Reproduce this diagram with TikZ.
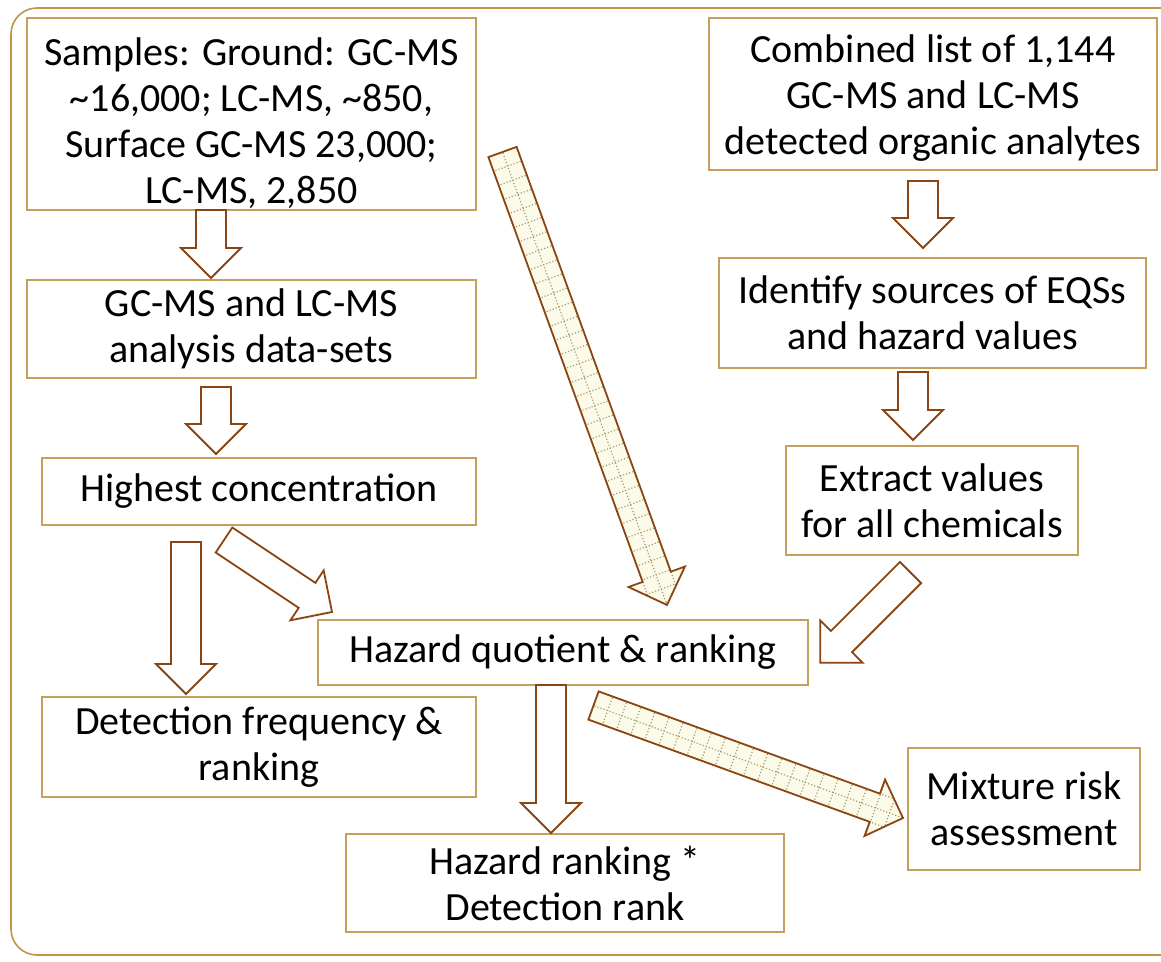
\documentclass[tikz,border=0pt]{standalone}
\usepackage{fontspec}
\setmainfont{Carlito}
\usetikzlibrary{calc}
\definecolor{boxcol}{RGB}{196,160,92}
\definecolor{framecol}{RGB}{190,150,70}
\definecolor{arrcol}{RGB}{139,69,19}
\definecolor{creamcol}{RGB}{252,250,232}
\definecolor{gridcol}{RGB}{165,160,115}
\tikzset{
  box/.style={draw=boxcol, line width=1.8pt, inner sep=0pt, align=center,
    font=\fontsize{40}{46}\selectfont, text=black},
  txt/.style={inner sep=0pt, align=center, font=\fontsize{40}{46}\selectfont, text=black},
  blk/.style={draw=arrcol, line width=1.8pt, line join=miter, fill=white},
  pat/.style={fill=creamcol},
}
\newcommand\arrshape{(0,-15) -- (\arlen-30,-15) -- (\arlen-30,-30) -- (\arlen,0) -- (\arlen-30,30) -- (\arlen-30,15) -- (0,15) -- cycle}
\newcommand\getarrow[2]{%
  \path let \p1=($(#2)-(#1)$) in \pgfextra{%
    \pgfmathsetmacro\tmpl{veclen(\x1,\y1)}\xdef\arlen{\tmpl}%
    \pgfmathsetmacro\tmpa{atan2(\y1,\x1)}\xdef\arang{\tmpa}};}
\newcommand\blockarrow[2]{%
  \getarrow{#1}{#2}%
  \begin{scope}[shift={(#1)}, rotate=\arang]
    \draw[blk] \arrshape;
  \end{scope}}
\newcommand\patarrow[2]{%
  \getarrow{#1}{#2}%
  \begin{scope}[shift={(#1)}, rotate=\arang]
    \fill[pat] \arrshape;
    \begin{scope}
      \clip \arrshape;
      \draw[gridcol, line width=1.2pt, dash pattern=on 1.2pt off 2pt, step=15pt] (-15,-45) grid (\arlen+15,45);
    \end{scope}
    \draw[blk, fill=none] \arrshape;
  \end{scope}}
\begin{document}
\begin{tikzpicture}[x=1pt,y=-1pt]
\useasboundingbox (0,0) rectangle (1161,961);
\clip (0,0) rectangle (1161,961);
\draw[framecol, line width=1.6pt, rounded corners=26pt] (11,8) rectangle (1190,955);

\node[box, minimum width=449pt, minimum height=192pt] (samples) at (251.5,114) {};
\node[txt] (samplestext) at (251.5,123)
  {Samples: Ground: GC-MS\\ \textasciitilde16,000; LC-MS, \textasciitilde850,\\ Surface GC-MS 23,000;\\ LC-MS, 2,850};
\node[box, minimum width=448pt, minimum height=152pt] (combined) at (933,94) {};
\node[txt] (combinedtext) at (933,98)
  {Combined list of 1,144\\ GC-MS and LC-MS\\ detected organic analytes};
\node[box, minimum width=449pt, minimum height=98pt] (analysis) at (251.5,329)
  {GC-MS and LC-MS\\ analysis data-sets};
\node[box, minimum width=427pt, minimum height=110pt] (identify) at (932.5,313)
  {Identify sources of EQSs\\ and hazard values};
\node[box, minimum width=434pt, minimum height=67pt] (highest) at (259,491.5)
  {Highest concentration};
\node[box, minimum width=292pt, minimum height=109pt] (extract) at (932,500.5)
  {Extract values\\ for all chemicals};
\node[box, minimum width=490pt, minimum height=65pt] (hq) at (563,652.5)
  {Hazard quotient \& ranking};
\node[box, minimum width=434pt, minimum height=100pt] (detect) at (259,747)
  {Detection frequency \&\\ ranking};
\node[box, minimum width=232pt, minimum height=122pt] (mixture) at (1024,809)
  {Mixture risk\\ assessment};
\node[box, minimum width=438pt, minimum height=98pt] (hrank) at (565,883)
  {Hazard ranking *\\ Detection rank};

% arrow end points
\coordinate (a1s) at (211,210);   \coordinate (a1e) at (211,278);
\coordinate (a2s) at (216,387);   \coordinate (a2e) at (216,454);
\coordinate (a3s) at (923,181);   \coordinate (a3e) at (923,248);
\coordinate (a4s) at (913,372);   \coordinate (a4e) at (913,440);
\coordinate (a5s) at (186,542);   \coordinate (a5e) at (186,694);
\coordinate (a6s) at (224,540);   \coordinate (a6e) at (332,612);
\coordinate (a7s) at (910.5,572.5); \coordinate (a7e) at (820,663);
\coordinate (a8s) at (551,685);   \coordinate (a8e) at (551,833);
\coordinate (a9s) at (502.5,152); \coordinate (a9e) at (667,605);
\coordinate (a10s) at (593.5,705.5); \coordinate (a10e) at (903,818);

\blockarrow{a1s}{a1e}
\blockarrow{a2s}{a2e}
\blockarrow{a3s}{a3e}
\blockarrow{a4s}{a4e}
\blockarrow{a5s}{a5e}
\blockarrow{a6s}{a6e}
\blockarrow{a7s}{a7e}
\blockarrow{a8s}{a8e}
\patarrow{a9s}{a9e}
\patarrow{a10s}{a10e}
\end{tikzpicture}
\end{document}
